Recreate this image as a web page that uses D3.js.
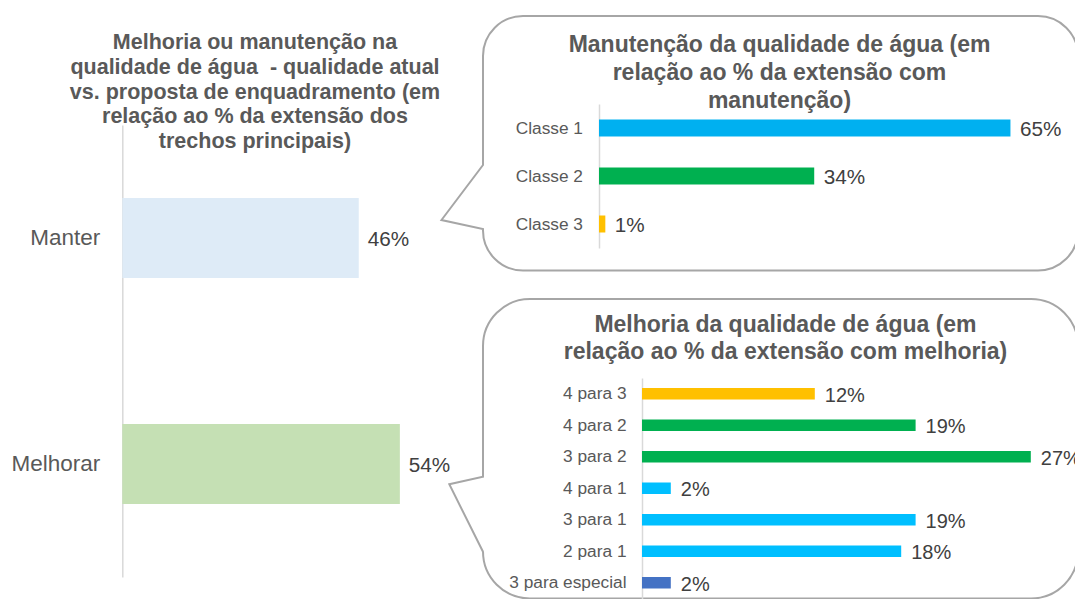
<!DOCTYPE html>
<html lang="pt">
<head>
<meta charset="utf-8">
<title>Qualidade de água – manutenção e melhoria</title>
<script src="https://cdn.jsdelivr.net/npm/d3@7/dist/d3.min.js"></script>
<style>
  html, body { margin: 0; padding: 0; background: #ffffff; }
  svg { display: block; font-family: "Liberation Sans", Arial, sans-serif; }
  .title { font-weight: bold; fill: #595959; white-space: pre; }
  .axis .domain { stroke: #d9d9d9; stroke-width: 1.5; }
  .axis text { fill: #595959; }
  .value { fill: #404040; }
  .callout { fill: #ffffff; stroke: #a6a6a6; stroke-width: 2; }
</style>
</head>
<body>
<svg id="chart" width="1075" height="599"></svg>
<script>
// Overall split: keep vs. improve (% of main stretch length)
const mainCategories = ["Manter", "Melhorar"];
const mainValues = [46, 54];
const mainColors = ["#deebf7", "#c5e0b4"];

// Keep: class distribution (% of length kept)
const keepCategories = ["Classe 1", "Classe 2", "Classe 3"];
const keepValues = [65, 34, 1];
const keepColors = ["#00b0f0", "#00b050", "#ffc000"];

// Improve: class transitions (% of length improved)
const improveCategories = ["4 para 3", "4 para 2", "3 para 2", "4 para 1", "3 para 1", "2 para 1", "3 para especial"];
const improveValues = [12, 19, 27, 2, 19, 18, 2];
const improveColors = ["#ffc000", "#00b050", "#00b050", "#00bfff", "#00bfff", "#00bfff", "#4472c4"];

const mainTitle = [
  "Melhoria ou manutenção na",
  "qualidade de água  - qualidade atual",
  "vs. proposta de enquadramento (em",
  "relação ao % da extensão dos",
  "trechos principais)"
];
const keepTitle = [
  "Manutenção da qualidade de água (em",
  "relação ao % da extensão com",
  "manutenção)"
];
const improveTitle = [
  "Melhoria da qualidade de água (em",
  "relação ao % da extensão com melhoria)"
];

const svg = d3.select("#chart");
const pct = d => d + "%";

// Rounded rectangle with a pointer on its left side
function calloutPath(x0, y0, x1, y1, r, tailTop, tip, tailBottom) {
  const p = d3.path();
  p.moveTo(x0 + r, y0);
  p.lineTo(x1 - r, y0);
  p.arcTo(x1, y0, x1, y0 + r, r);
  p.lineTo(x1, y1 - r);
  p.arcTo(x1, y1, x1 - r, y1, r);
  p.lineTo(x0 + r, y1);
  p.arcTo(x0, y1, x0, y1 - r, r);
  p.lineTo(x0, tailBottom);
  p.lineTo(tip[0], tip[1]);
  p.lineTo(x0, tailTop);
  p.lineTo(x0, y0 + r);
  p.arcTo(x0, y0, x0 + r, y0, r);
  p.closePath();
  return p.toString();
}

function drawTitle(lines, cx, firstBaseline, lineHeight, size) {
  const t = svg.append("text")
    .attr("class", "title")
    .attr("text-anchor", "middle")
    .style("font-size", size + "px");
  t.selectAll("tspan").data(lines).join("tspan")
    .attr("x", cx)
    .attr("y", (d, i) => firstBaseline + i * lineHeight)
    .text(d => d);
}

function drawBars(g, cats, vals, colors, x, y, opts) {
  g.append("g")
    .attr("class", "axis")
    .attr("transform", `translate(${x(0)},0)`)
    .call(d3.axisLeft(y).tickSize(0).tickPadding(opts.tickPadding))
    .call(a => a.selectAll("text").style("font-size", opts.catSize + "px"));

  const data = cats.map((c, i) => ({ c, v: vals[i], color: colors[i] }));

  g.append("g").selectAll("rect").data(data).join("rect")
    .attr("x", x(0))
    .attr("y", d => y(d.c))
    .attr("width", d => x(d.v) - x(0))
    .attr("height", y.bandwidth())
    .attr("fill", d => d.color);

  g.append("g").selectAll("text").data(data).join("text")
    .attr("class", "value")
    .attr("x", d => x(d.v) + opts.labelGap)
    .attr("y", d => y(d.c) + y.bandwidth() / 2)
    .attr("dy", "0.4em")
    .style("font-size", opts.valueSize + "px")
    .text(d => pct(d.v));
}

// ---- Left chart: keep vs. improve ----
drawTitle(mainTitle, 255, 49.3, 24.6, 21.5);

const xMain = d3.scaleLinear().domain([0, 60]).range([122.3, 122.3 + 60 * 5.14]);
const yMain = d3.scaleBand().domain(mainCategories).range([125, 577])
  .paddingInner(0.646).paddingOuter(0.323);
drawBars(svg.append("g"), mainCategories, mainValues, mainColors, xMain, yMain,
  { tickPadding: 22, catSize: 22.5, valueSize: 20.7, labelGap: 9 });

// ---- Callout: keep ----
svg.append("path").attr("class", "callout")
  .attr("d", calloutPath(483, 16, 1078, 270.5, 40, 165, [441.5, 220], 229));
drawTitle(keepTitle, 779.5, 51.7, 28, 23);

const xKeep = d3.scaleLinear().domain([0, 70]).range([599, 599 + 70 * 6.33]);
const yKeep = d3.scaleBand().domain(keepCategories).range([104, 248])
  .paddingInner(0.646).paddingOuter(0.323);
drawBars(svg.append("g"), keepCategories, keepValues, keepColors, xKeep, yKeep,
  { tickPadding: 16, catSize: 17.3, valueSize: 20.7, labelGap: 9.5 });

// ---- Callout: improve ----
svg.append("path").attr("class", "callout")
  .attr("d", calloutPath(483, 299, 1078, 598.5, 47, 476.7, [449.3, 484.3], 551.7));
drawTitle(improveTitle, 785.5, 331.7, 27.5, 23);

const xImp = d3.scaleLinear().domain([0, 30]).range([642, 642 + 30 * 14.4]);
const yImp = d3.scaleBand().domain(improveCategories).range([378, 598.5])
  .paddingInner(0.635).paddingOuter(0.3175);
drawBars(svg.append("g"), improveCategories, improveValues, improveColors, xImp, yImp,
  { tickPadding: 15.5, catSize: 17.3, valueSize: 20, labelGap: 10 });
</script>
</body>
</html>
